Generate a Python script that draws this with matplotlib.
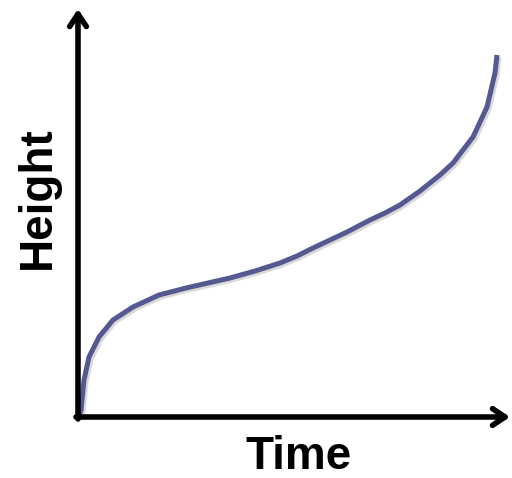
import matplotlib
matplotlib.use("Agg")
import matplotlib.pyplot as plt
import matplotlib.patheffects as pe

# curve (time, height) in arbitrary units
time = [1, 3, 6, 11, 21, 35, 55, 81, 108, 130, 152, 177, 202, 219, 235, 252,
        269, 292, 307, 322, 342, 352, 362, 375, 385, 395, 402, 409, 413, 417, 419]
height = [1, 7, 37, 60, 80, 97, 110, 122, 129, 134, 139, 146, 154, 161, 169, 177,
          185, 197, 204, 212, 226, 234, 242, 254, 267, 280, 295, 310, 327, 344, 362]
xlabel = "Time"
ylabel = "Height"

fig = plt.figure(figsize=(5.12, 4.78), dpi=100)
ax = fig.add_axes([78 / 512, 61 / 478, 434 / 512, 417 / 478])
ax.set_xlim(0, 434)
ax.set_ylim(0, 417)
ax.axis("off")

shadow = [pe.SimpleLineShadow(offset=(1.5, -1.5), alpha=0.15, shadow_color="black"), pe.Normal()]

ax.plot(time, height, color="#555991", lw=3.6, solid_capstyle="butt",
        solid_joinstyle="round", zorder=3, path_effects=shadow)

head = "->,head_length=0.9,head_width=0.6"
ax.annotate("", xy=(432, 0), xytext=(-2, 0),
            arrowprops=dict(arrowstyle=head, color="black", lw=4, shrinkA=0, shrinkB=0),
            annotation_clip=False)
ax.annotate("", xy=(0, 408), xytext=(0, -2),
            arrowprops=dict(arrowstyle=head, color="black", lw=4, shrinkA=0, shrinkB=0),
            annotation_clip=False)

fig.text(299 / 512, 1 - 457 / 478, xlabel, fontsize=33, fontweight="bold",
         family="Liberation Sans", ha="center", va="center")
fig.text(38 / 512, 1 - 198 / 478, ylabel, fontsize=33, fontweight="bold",
         family="Liberation Sans", ha="center", va="center", rotation=90)

fig.savefig("out.png", dpi=100)
